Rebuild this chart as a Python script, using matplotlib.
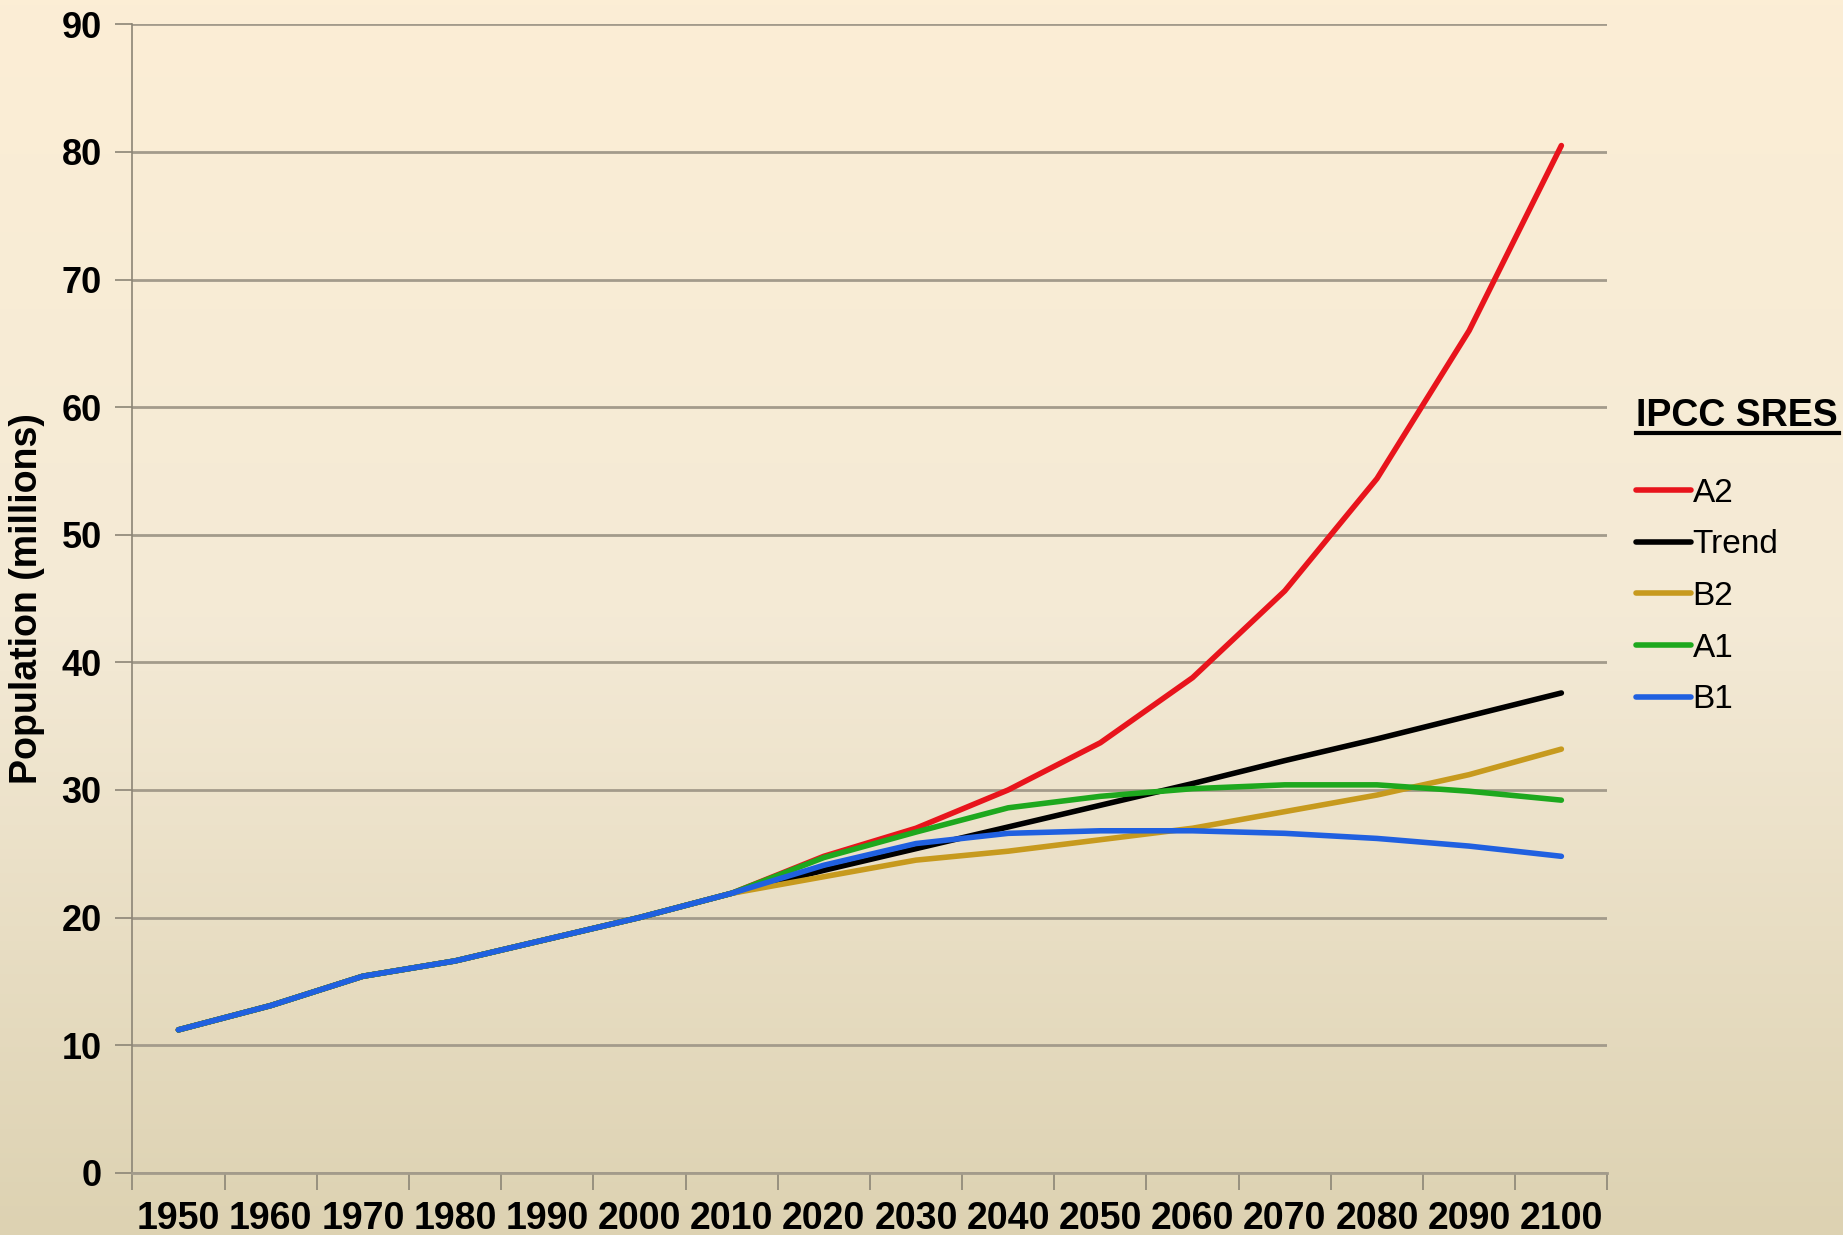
import numpy as np
import matplotlib.pyplot as plt
from matplotlib.lines import Line2D
from matplotlib.colors import LinearSegmentedColormap

plt.rcParams['font.family'] = ['Liberation Sans', 'DejaVu Sans']

years = ['1950', '1960', '1970', '1980', '1990', '2000', '2010', '2020',
         '2030', '2040', '2050', '2060', '2070', '2080', '2090', '2100']

# shared history up to 2010
hist = [11.2, 13.1, 15.4, 16.6, 18.3, 20.0, 21.9]

a2 = hist + [24.8, 27.0, 30.0, 33.7, 38.8, 45.6, 54.4, 66.0, 80.5]
trend = hist + [23.7, 25.4, 27.1, 28.8, 30.5, 32.3, 34.0, 35.8, 37.6]
b2 = hist + [23.2, 24.5, 25.2, 26.1, 27.0, 28.3, 29.6, 31.2, 33.2]
a1 = hist + [24.7, 26.7, 28.6, 29.5, 30.1, 30.4, 30.4, 29.9, 29.2]
b1 = hist + [24.1, 25.8, 26.6, 26.8, 26.8, 26.6, 26.2, 25.6, 24.8]

series = [('A2', a2, '#E8141C'),
          ('Trend', trend, '#000000'),
          ('B2', b2, '#C79A1E'),
          ('A1', a1, '#1EA81E'),
          ('B1', b1, '#2060E0')]

fig = plt.figure(figsize=(18.43, 12.35), dpi=100)

# cream-to-tan background
bg = fig.add_axes([0, 0, 1, 1], zorder=-10)
cmap = LinearSegmentedColormap.from_list('bg', ['#FCEED5', '#F4EAD6', '#DDD2B2'])
bg.imshow(np.linspace(0, 1, 256).reshape(-1, 1), aspect='auto', cmap=cmap,
          extent=[0, 1, 0, 1])
bg.axis('off')

ax = fig.add_axes([0.0718, 0.0504, 0.8004, 0.9299])
ax.set_facecolor('none')

x = np.arange(len(years))
for name, vals, col in series:
    ax.plot(x, vals, color=col, lw=4, label=name, solid_capstyle='round')

ax.set_xlim(-0.5, len(years) - 0.5)
ax.set_ylim(0, 90)
ax.set_yticks(np.arange(0, 91, 10))
ax.yaxis.grid(True, color='#A39B8B', lw=2)
ax.set_axisbelow(True)

ax.set_xticks(np.arange(-0.5, len(years)), labels=[])
ax.set_xticks(x, labels=years, minor=True)
ax.tick_params(axis='x', which='major', length=12, width=1.2, color='#8C8576')
ax.tick_params(axis='x', which='minor', length=0, pad=20, labelsize=27)
ax.tick_params(axis='y', length=12, width=1.2, color='#8C8576', pad=10, labelsize=26)
for lab in ax.get_xticklabels(minor=True) + ax.get_yticklabels():
    lab.set_fontweight('bold')

for s in ['top', 'right']:
    ax.spines[s].set_visible(False)
ax.spines['left'].set_color('#8C8576')
ax.spines['left'].set_linewidth(1.2)
ax.spines['bottom'].set_color('#A39B8B')
ax.spines['bottom'].set_linewidth(2)

ax.set_ylabel('Population (millions)', fontsize=27, fontweight='bold', labelpad=12)

# legend block on the right
fig.text(0.8875, 0.663, 'IPCC SRES', fontsize=27, fontweight='bold', va='center')
fig.add_artist(Line2D([0.8875, 0.998], [0.649, 0.649], color='black', lw=3,
                      transform=fig.transFigure))
ax.legend(loc='upper left', bbox_to_anchor=(0.8713, 0.6375),
          bbox_transform=fig.transFigure, frameon=False, fontsize=24,
          handlelength=1.65, handletextpad=0.05, labelspacing=0.62)

fig.savefig('out.png', dpi=100)
